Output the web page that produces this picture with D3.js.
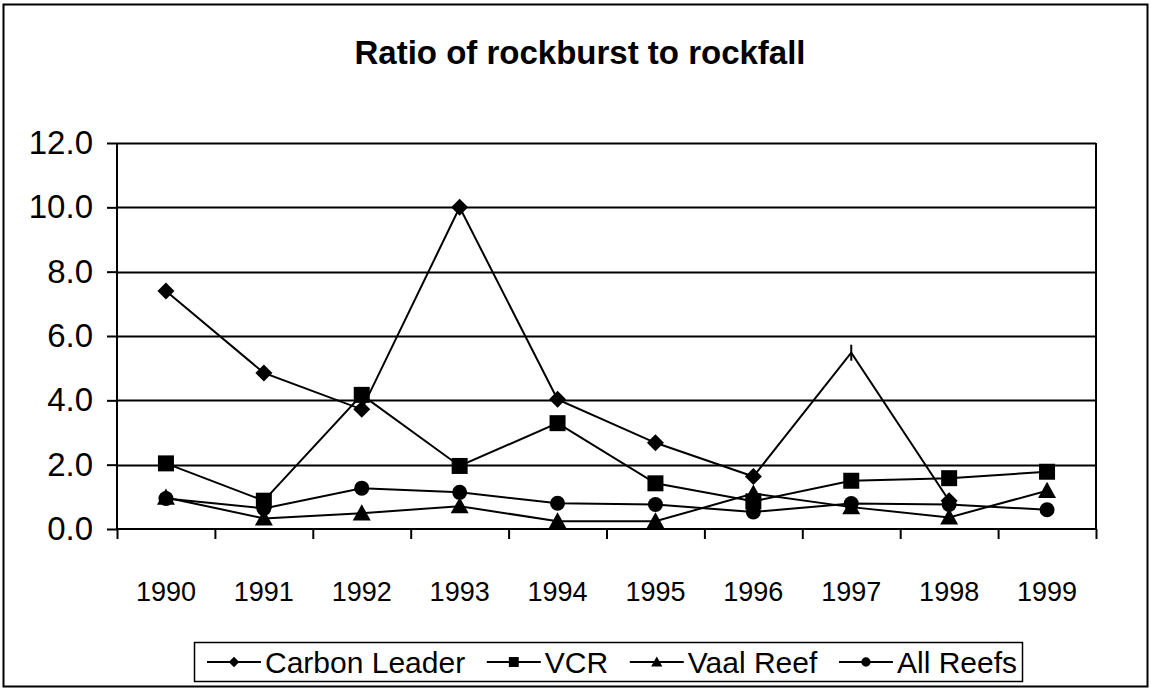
<!DOCTYPE html>
<html>
<head>
<meta charset="utf-8">
<script src="https://cdn.jsdelivr.net/npm/d3@7"></script>
<style>
  body { margin: 0; background: #fff; }
  text { font-family: "Liberation Sans", Arial, sans-serif; fill: #000; }
</style>
</head>
<body>
<script>
// chart data
var years = ['1990','1991','1992','1993','1994','1995','1996','1997','1998','1999'];
var carbonLeader = [7.4, 4.85, 3.72, 10.0, 4.03, 2.68, 1.63, 5.48, 0.88, null];
var vcr = [2.04, 0.88, 4.17, 1.96, 3.29, 1.42, 0.86, 1.5, 1.58, 1.78];
var vaalReef = [0.98, 0.33, 0.49, 0.71, 0.24, 0.24, 1.1, 0.68, 0.36, 1.19];
var allReefs = [0.95, 0.64, 1.27, 1.14, 0.8, 0.76, 0.53, 0.79, 0.76, 0.6];
var seriesNames = ['Carbon Leader', 'VCR', 'Vaal Reef', 'All Reefs'];
var yTicks = [0, 2, 4, 6, 8, 10, 12];

var svgWidth = 1151;
var svgHeight = 691;

var margin = {top: 143, left: 117, right: 55, bottom: 162};
var chartWidth = svgWidth - margin.left - margin.right;
var chartHeight = svgHeight - margin.top - margin.bottom;

var svg = d3.select('body')
  .append('svg')
  .attr('width', svgWidth)
  .attr('height', svgHeight);

// outer border
svg.append('rect')
  .attr('x', 3.5).attr('y', 4.5)
  .attr('width', svgWidth - 7).attr('height', svgHeight - 9)
  .attr('fill', 'none').attr('stroke', '#000').attr('stroke-width', 2);

svg.append('text')
  .attr('x', 580).attr('y', 64)
  .attr('text-anchor', 'middle')
  .style('font-size', '33px').style('font-weight', 'bold')
  .text('Ratio of rockburst to rockfall');

var chart = svg.append('g')
  .attr('transform', 'translate(' + margin.left + ',' + margin.top + ')');

var xScale = d3.scaleBand().domain(years).range([0, chartWidth]);
var yScale = d3.scaleLinear().domain([0, 12]).range([chartHeight, 0]);

// gridlines
chart.selectAll('.grid')
  .data(yTicks.filter(function(d){ return d > 0; }))
  .enter()
  .append('line')
  .attr('x1', 0).attr('x2', chartWidth)
  .attr('y1', function(d){ return Math.round(yScale(d)) + 0.5; })
  .attr('y2', function(d){ return Math.round(yScale(d)) + 0.5; })
  .attr('stroke', '#000').attr('stroke-width', 2);

// right border of plot area
chart.append('line')
  .attr('x1', chartWidth).attr('x2', chartWidth)
  .attr('y1', 0).attr('y2', chartHeight)
  .attr('stroke', '#000').attr('stroke-width', 2);

var leftAxis = d3.axisLeft(yScale)
  .tickValues(yTicks)
  .tickSize(10)
  .tickPadding(14)
  .tickFormat(d3.format('.1f'));

var yAxis = chart.append('g').call(leftAxis);

// category axis, ticks at band edges
var xEdge = d3.scaleLinear().domain([0, years.length]).range([0, chartWidth]);
var bottomAxis = d3.axisBottom(xEdge)
  .tickValues(d3.range(years.length + 1))
  .tickSize(10)
  .tickFormat('');

var xAxis = chart.append('g')
  .attr('transform', 'translate(0,' + chartHeight + ')')
  .call(bottomAxis);

[yAxis, xAxis].forEach(function(a){
  a.select('.domain').attr('stroke', '#000').attr('stroke-width', 2);
  a.selectAll('.tick line').attr('stroke', '#000').attr('stroke-width', 2);
});
yAxis.selectAll('text')
  .attr('font-size', null).attr('font-family', null)
  .style('font-size', '33px').style('fill', '#000');
xAxis.select('.domain').attr('d', 'M0,0H' + chartWidth);
yAxis.select('.domain').attr('d', 'M0,0V' + chartHeight);

chart.append('g')
  .selectAll('text')
  .data(years)
  .enter()
  .append('text')
  .attr('x', function(d){ return xScale(d) + xScale.bandwidth() / 2; })
  .attr('y', chartHeight + 72)
  .attr('text-anchor', 'middle')
  .style('font-size', '27px')
  .text(function(d){ return d; });

// markers
function markerPath(s, r) {
  if (s === 0) return 'M0,' + (-r) + 'L' + r + ',0L0,' + r + 'L' + (-r) + ',0Z';
  if (s === 1) return 'M' + (-r) + ',' + (-r) + 'H' + r + 'V' + r + 'H' + (-r) + 'Z';
  if (s === 2) return 'M0,' + (-r) + 'L' + r + ',' + (r * 0.8) + 'H' + (-r) + 'Z';
  return d3.symbol().type(d3.symbolCircle).size(Math.PI * r * r)();
}
var markerR = [8.5, 8, 9, 7.5];

var seriesData = [carbonLeader, vcr, vaalReef, allReefs];

var line = d3.line()
  .defined(function(d){ return d != null; })
  .x(function(d, i){ return xScale(years[i]) + xScale.bandwidth() / 2; })
  .y(function(d){ return yScale(d); });

var order = [3, 2, 1, 0];
order.forEach(function(s){
  chart.append('path')
    .datum(seriesData[s])
    .attr('d', line)
    .attr('fill', 'none')
    .attr('stroke', '#000')
    .attr('stroke-width', 2);
});

order.forEach(function(s){
  chart.append('g')
    .selectAll('path')
    .data(seriesData[s].map(function(v, i){ return {v: v, i: i}; })
      .filter(function(d){ return d.v != null; }))
    .enter()
    .append('path')
    .attr('transform', function(d){
      return 'translate(' + (xScale(years[d.i]) + xScale.bandwidth() / 2) + ',' + yScale(d.v) + ')';
    })
    .attr('d', function(d){
      // the 1997 Carbon Leader point shows only a short vertical stroke
      if (s === 0 && d.i === 7) return 'M0,-8V8';
      return markerPath(s, markerR[s]);
    })
    .attr('fill', '#000')
    .attr('stroke', '#000')
    .attr('stroke-width', function(d){ return (s === 0 && d.i === 7) ? 2 : 0; });
});

// legend
var legend = svg.append('g');
legend.append('rect')
  .attr('x', 194.5).attr('y', 642.5)
  .attr('width', 828).attr('height', 39)
  .attr('fill', '#fff').attr('stroke', '#000').attr('stroke-width', 1.5);

var legendStart = 207, legendEnd = 1017, keyLen = 54;
var items = seriesNames.map(function(name, s){
  var g = legend.append('g');
  g.append('line').attr('x1', 0).attr('x2', keyLen).attr('stroke', '#000').attr('stroke-width', 2);
  g.append('path')
    .attr('transform', 'translate(' + (keyLen / 2) + ',0)')
    .attr('d', markerPath(s, markerR[s] * 0.62))
    .attr('fill', '#000');
  var t = g.append('text')
    .attr('x', keyLen + 4).attr('y', 10.5)
    .style('font-size', '30px')
    .text(name);
  return {g: g, w: keyLen + 4 + t.node().getComputedTextLength()};
});
var used = d3.sum(items, function(d){ return d.w; });
var gap = (legendEnd - legendStart - used) / (items.length - 1);
var cx = legendStart;
items.forEach(function(it){
  it.g.attr('transform', 'translate(' + cx + ',662)');
  cx += it.w + gap;
});
</script>
</body>
</html>
